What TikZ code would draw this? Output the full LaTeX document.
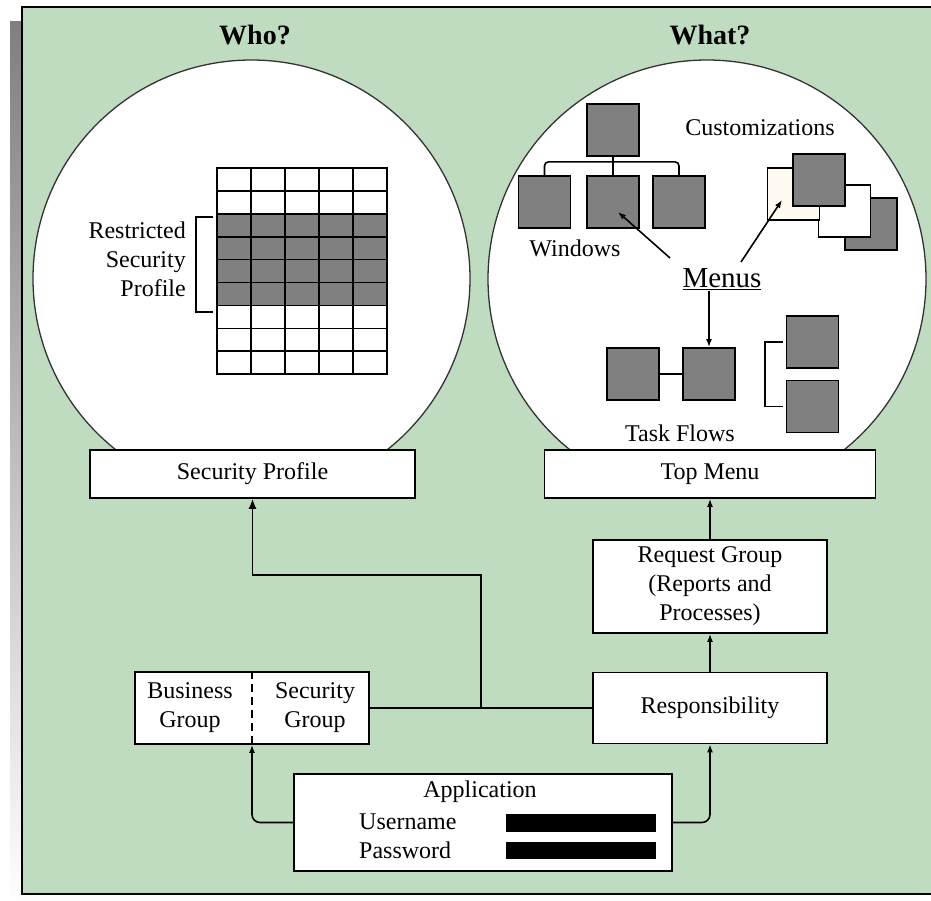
\documentclass[tikz,border=0pt]{standalone}
\usepackage{fontspec}
\setmainfont{Liberation Serif}
\usetikzlibrary{arrows.meta}
\definecolor{panelgreen}{HTML}{C0DCC0}
\definecolor{shade}{HTML}{808080}
\definecolor{cream}{HTML}{FFFBF0}
\tikzset{
  box/.style={draw, line width=1.7pt, fill=white, inner sep=0pt, align=center},
  sq/.style={draw, line width=1.7pt, fill=shade, minimum size=52pt, inner sep=0pt},
  lbl/.style={inner sep=1pt, align=center},
  arr/.style={line width=1.6pt, -{Latex[length=8pt,width=6pt]}},
}

\begin{document}
\begin{tikzpicture}[x=1pt, y=-1pt, font=\fontsize{24}{29}\selectfont]
    \useasboundingbox (0,0) rectangle (931,900);
    \clip (0,0) rectangle (931,900);

    %panel
    \fill[shade] (10,21) rectangle (922,908);
    \draw[fill=panelgreen, line width=2.2pt] (22,7) rectangle (934,894);

    %bubbles
    \draw[fill=white, line width=1.3pt, draw=black!80] (251.5,278.5) circle (218.5pt);
    \draw[fill=white, line width=1.3pt, draw=black!80] (707,279) circle (219pt);
    \node[font=\fontsize{28}{30}\selectfont\bfseries] (who) at (255,35) {Who?};
    \node[font=\fontsize{28}{30}\selectfont\bfseries] (what) at (710,35) {What?};

    %profile table
    \foreach \r in {0,...,8}
      \foreach \c in {0,...,4}
        \draw[line width=1.6pt, fill=white] ({217+34*\c},{168+22.9*\r}) rectangle ++(34,22.9);
    \foreach \r in {2,...,5}
      \foreach \c in {0,...,4}
        \draw[line width=1.6pt, fill=shade] ({217+34*\c},{168+22.9*\r}) rectangle ++(34,22.9);
    \node[lbl, align=right, anchor=east] (restr) at (187,259) {Restricted\\Security\\Profile};
    \draw[line width=2.6pt] (213,217) -- (196,217) -- (196,312) -- (213,312);

    %windows
    \node[sq] (wtop) at (613,130) {};
    \node[sq] (wleft) at (544.5,202) {};
    \node[sq] (wmid) at (613,202) {};
    \node[sq] (wright) at (679,202) {};
    \draw[line width=1.6pt] (wtop) -- (wmid);
    \draw[line width=1.6pt, rounded corners=4pt] (wleft.north) |- ([yshift=-5pt]wtop.south) -| (wright.north);
    \node[lbl] (windows) at (575,248) {Windows};

    %customizations
    \node[lbl] (custom) at (760,128) {Customizations};
    \node[sq] (cust4) at (871,224) {};
    \node[sq, fill=white] (cust3) at (844.5,211) {};
    \node[sq, fill=cream] (cust2) at (793.5,194) {};
    \node[sq] (cust1) at (819,180) {};

    %task flows
    \node[sq] (tf1) at (633,374) {};
    \node[sq] (tf2) at (709,374) {};
    \node[sq] (tf3) at (812.5,342) {};
    \node[sq] (tf4) at (812.5,406.5) {};
    \draw[line width=1.6pt] (tf1) -- (tf2);
    \draw[line width=1.6pt] ([xshift=-3pt]tf3.west) -| ([xshift=29pt]tf2.east) |- ([xshift=-3pt]tf4.west);
    \node[lbl] (taskflows) at (680,433) {Task Flows};

    %menus
    \node[lbl, font=\fontsize{29}{30}\selectfont] (menus) at (722,279) {\underline{Menus}};
    \coordinate (mwin) at (670,258);
    \coordinate (mcust) at (741,262);
    \draw[arr] (mwin) -- ([shift={(5pt,-10pt)}]wmid.center);
    \draw[arr] (mcust) -- ([shift={(-11.5pt,-6pt)}]cust2.center);
    \draw[arr] (menus.south -| tf2.north) -- (tf2.north);

    %blocks
    \node[box, minimum width=325pt, minimum height=48pt] (secprof) at (252.5,474) {Security Profile};
    \node[box, minimum width=331pt, minimum height=48pt] (topmenu) at (710,474) {Top Menu};
    \node[box, minimum width=234pt, minimum height=93pt] (reqgrp) at (710,586.5) {Request Group\\(Reports and\\Processes)};
    \node[box, minimum width=234pt, minimum height=71pt] (resp) at (710,708) {Responsibility};
    \node[box, minimum width=234pt, minimum height=72pt] (bizsec) at (252,708) {};
    \node[lbl] (bizgrp) at (190,707.5) {Business\\Group};
    \node[lbl] (secgrp) at (315,707.5) {Security\\Group};
    \node[box, minimum width=378pt, minimum height=97pt] (app) at (483,822.5) {};
    \node[lbl] (applbl) at (480,792) {Application};
    \node[lbl, anchor=west] (user) at (358,822) {Username};
    \node[lbl, anchor=west] (pass) at (358,850) {Password};
    \node[fill=black, minimum width=150pt, minimum height=18pt, inner sep=0pt] (userbar) at (581,823) {};
    \node[fill=black, minimum width=150pt, minimum height=17pt, inner sep=0pt] (passbar) at (581,850.5) {};

    %arrows
    \coordinate (jn) at (481,708);
    \draw[line width=1.6pt] (bizsec.east) -- (resp.west);
    \draw[arr, -{Latex[length=10pt,width=8pt]}] (jn) |- ([yshift=-76pt]secprof.south) -- (secprof.south);
    \draw[line width=1.6pt, dash pattern=on 8pt off 5pt] (bizsec.north) -- (bizsec.south);
    \draw[arr, rounded corners=8pt] (app.west) -| (bizsec.south);
    \draw[arr, rounded corners=8pt] (app.east) -| (resp.south);
    \draw[arr] (resp) -- (reqgrp);
    \draw[arr] (reqgrp) -- (topmenu);
\end{tikzpicture}
\end{document}
